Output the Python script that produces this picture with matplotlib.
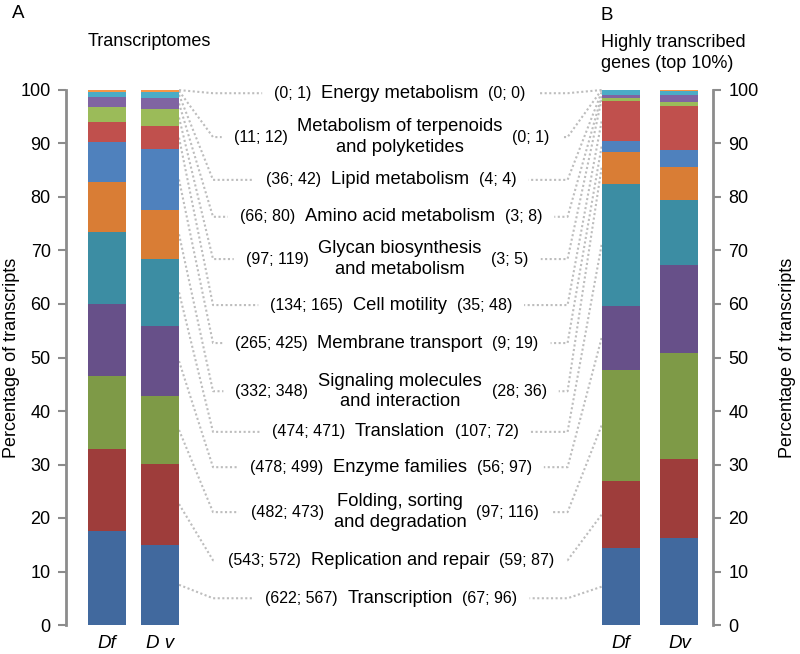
import numpy as np
import matplotlib
matplotlib.use("Agg")
import matplotlib.pyplot as plt
from matplotlib.transforms import blended_transform_factory

plt.rcParams["font.family"] = ["Liberation Sans", "DejaVu Sans"]

# KEGG categories, stacked bottom -> top
CATEGORIES = [
    "Transcription",
    "Replication and repair",
    "Folding, sorting\nand degradation",
    "Enzyme families",
    "Translation",
    "Signaling molecules\nand interaction",
    "Membrane transport",
    "Cell motility",
    "Glycan biosynthesis\nand metabolism",
    "Amino acid metabolism",
    "Lipid metabolism",
    "Metabolism of terpenoids\nand polyketides",
    "Energy metabolism",
]
# transcript counts
DF_ALL = [622, 543, 482, 478, 474, 332, 265, 134, 97, 66, 36, 11, 0]
DV_ALL = [567, 572, 473, 499, 471, 348, 425, 165, 119, 80, 42, 12, 1]
DF_TOP = [67, 59, 97, 56, 107, 28, 9, 35, 3, 3, 4, 0, 0]
DV_TOP = [96, 87, 116, 97, 72, 36, 19, 48, 5, 8, 4, 1, 0]
BAR_LABELS = ["Df", "D v", "Df", "Dv"]

COLORS = ["#41699e", "#9e3d3b", "#7e9a47", "#675089", "#3c8da3", "#d97d35",
          "#4f81bd", "#c0504d", "#9bbb59", "#8064a2", "#4bacc6", "#f79646",
          "#95b3d7"]

# layout: where the middle labels sit (in % units of the axis)
LABEL_Y = [5.0, 12.1, 21.1, 29.5, 36.1, 43.7, 52.7, 59.8, 68.4, 76.3, 83.2, 91.2, 99.4]
BAR_X = [0, 1, 9.69, 10.8]
WIDTH = 0.717
KNEE_L = 2.0
KNEE_R = 8.69
LINE_KW = dict(color="#bdbdbd", lw=1.5, linestyle=(0, (1, 1.2)), zorder=1)


def to_pct(counts):
    c = np.array(counts, dtype=float)
    return c / c.sum() * 100


cols = [to_pct(DF_ALL), to_pct(DV_ALL), to_pct(DF_TOP), to_pct(DV_TOP)]

fig = plt.figure(figsize=(8, 6.54), dpi=100)
ax = fig.add_axes([66 / 800, 1 - 625 / 654, 647 / 800, 535 / 654])

mids = []
for x, pct in zip(BAR_X, cols):
    bottom = 0.0
    m = []
    for v, c in zip(pct, COLORS):
        ax.bar(x, v, WIDTH, bottom=bottom, color=c, linewidth=0, zorder=2)
        m.append(bottom + v / 2)
        bottom += v
    mids.append(m)

ax.set_xlim(-0.774, 11.434)
ax.set_ylim(0, 100)
for s in ["top", "bottom"]:
    ax.spines[s].set_visible(False)
for s in ["left", "right"]:
    ax.spines[s].set_color("#8c8c8c")
    ax.spines[s].set_linewidth(2)
ax.set_yticks(range(0, 101, 10))
ax.tick_params(axis="y", left=True, right=True, labelleft=True, labelright=True,
               direction="out", length=6, width=1.5, color="#8c8c8c",
               labelsize=13, pad=5)
ax.set_xticks(BAR_X)
ax.set_xticklabels(BAR_LABELS, style="italic", fontsize=13.5)
ax.tick_params(axis="x", length=0, pad=7)

ymid = 0.5 * ((1 - 625 / 654) + (1 - 90 / 654))
fig.text(12 / 800, ymid, "Percentage of transcripts", rotation=90,
         ha="center", va="center", fontsize=13)
fig.text(787 / 800, ymid, "Percentage of transcripts", rotation=90,
         ha="center", va="center", fontsize=13)

fig.text(12 / 800, 1 - 14 / 654, "A", fontsize=13.5, va="center")
fig.text(149 / 800, 1 - 41 / 654, "Transcriptomes", fontsize=13,
         ha="center", va="center")
fig.text(600 / 800, 1 - 15 / 654, "B", fontsize=13.5, va="center")
fig.text(601 / 800, 1 - 53 / 654, "Highly transcribed\ngenes (top 10%)",
         fontsize=13, va="center", linespacing=1.3)

# middle labels with counts (Df; Dv)
trans = blended_transform_factory(fig.transFigure, ax.transData)
lefts, rights = [], []
for i, name in enumerate(CATEGORIES):
    t = ax.text(0.5, LABEL_Y[i], name, transform=trans, ha="center",
                va="center", fontsize=13.2, linespacing=1.25)
    lt = ax.annotate(f"({DF_ALL[i]}; {DV_ALL[i]})", xy=(0, 0.5), xycoords=t,
                     xytext=(-7, 0), textcoords="offset points", ha="right",
                     va="center", fontsize=11.5)
    rt = ax.annotate(f"({DF_TOP[i]}; {DV_TOP[i]})", xy=(1, 0.5), xycoords=t,
                     xytext=(7, 0), textcoords="offset points", ha="left",
                     va="center", fontsize=11.5)
    lefts.append(lt)
    rights.append(rt)

# dotted connectors
fig.canvas.draw()
rend = fig.canvas.get_renderer()
inv = ax.transData.inverted()
for i in range(len(CATEGORIES)):
    y = LABEL_Y[i]
    bb = lefts[i].get_window_extent(rend)
    xe = inv.transform((bb.x0 - 12, 0))[0]
    xs = BAR_X[1] + WIDTH / 2
    xk = min(KNEE_L, xe)
    ax.plot([xs, xk, xe], [mids[1][i], y, y], clip_on=False, **LINE_KW)

    bb = rights[i].get_window_extent(rend)
    xe = inv.transform((bb.x1 + 12, 0))[0]
    xs = BAR_X[2] - WIDTH / 2
    xk = max(KNEE_R, xe)
    ax.plot([xs, xk, xe], [mids[2][i], y, y], clip_on=False, **LINE_KW)

fig.savefig("out.png", dpi=100)
